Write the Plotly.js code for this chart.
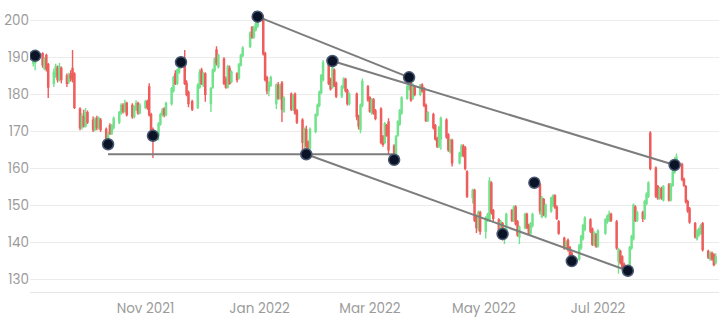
<!DOCTYPE html>
<html>
<head>
<meta charset="utf-8">
<script src="https://cdn.plot.ly/plotly-3.0.1.min.js"></script>
<style>
  html, body { margin: 0; padding: 0; background: #ffffff; }
  #chart { width: 724px; height: 319px; }
</style>
</head>
<body>
<div id="chart"></div>
<script>
// ---- Trading calendar (weekdays, US market holidays skipped) ----
const firstDay = '2021-09-02';
const lastDay = '2022-09-02';
const marketHolidays = ['2021-09-06', '2021-11-25', '2021-12-24', '2022-01-17', '2022-02-21',
  '2022-04-15', '2022-05-30', '2022-06-20', '2022-07-04'];

// ---- Daily prices, one line per week ----
const openPrices = [
  188.5, 188.5,
  191, 187, 190.5, 188,
  183, 185, 187, 184, 187,
  185, 183.5, 185.5, 187, 185.5,
  176, 171, 174, 171.5, 175,
  173, 170.5, 173.5, 171, 173,
  170.5, 167.5, 171.5, 169.5, 171,
  172.5, 175, 177, 175.5, 177.5,
  177, 174, 176, 177.5, 175,
  176.5, 178, 182, 174.5, 170.5,
  169, 172, 174.5, 176, 174.5,
  177.5, 181, 185.5, 183, 186,
  188.5, 183, 180.5, 178,
  176.5, 182, 186.5, 182.5, 185.5,
  177.5, 182, 186.5, 192, 187.5,
  189.5, 184, 182, 187, 183.5,
  185.5, 184.5, 188, 190.5,
  193, 198, 195.5, 197.5, 198.5,
  200.5, 191, 184.5, 181, 182.5,
  177.5, 182.5, 179, 183, 175.5,
  180, 176, 180, 175.5,
  173, 167, 170.5, 167, 165.5,
  170, 174.5, 177, 180.5, 184,
  188, 184, 182, 186.5, 183,
  179.5, 182, 184, 181, 177.5,
  180, 174, 170.5, 177,
  182, 179, 175, 178.5, 175.5,
  176, 168.5, 167, 171.5, 172.5,
  166, 164, 169, 172, 175,
  179, 181.5, 183.5, 179, 182,
  180, 182.5, 181.5, 177, 173,
  174.5, 171.5, 168, 166, 168,
  173, 169, 164.5, 167.5,
  161.5, 163.5, 166, 165.5, 159,
  152, 154, 147, 144, 148,
  143, 146, 146, 156, 148.5,
  146, 143, 145, 141, 143,
  148.5, 146, 149.5, 145.5, 141.5,
  144, 147.5, 144.5, 142.5, 144.5,
  155.5, 147, 151.5, 147,
  148.5, 150, 152.5, 149.5, 145.5,
  141, 138.5, 140.5, 138.5, 137,
  135.5, 138.5, 141, 143.5,
  146, 143.5, 139.5, 142, 139,
  142.5, 145.5, 146, 147.5,
  145.5, 135, 137.5, 136, 134,
  134, 138.5, 141, 149.5, 146,
  148, 146.5, 150.5, 152.5, 169.5,
  160, 155, 152, 154.5, 151.5,
  155.5, 151.5, 155.5, 159, 161,
  161, 157, 155, 151, 149,
  145, 141, 142, 142.5, 145,
  137.5, 135.5, 137, 136.5, 134.5
];
const highPrices = [
  190.6, 190.3,
  191.4, 190, 191, 188.5,
  187, 188.3, 187.8, 188.5, 187.5,
  185.6, 185.8, 186.5, 192, 186,
  176.5, 175, 175.8, 176.3, 175.6,
  174, 173.8, 174.2, 174, 173.6,
  171, 169.8, 172.2, 172, 174,
  175.5, 177.6, 177.6, 178.5, 178,
  177.6, 177, 178.4, 178, 177.6,
  178.5, 178.5, 183, 175, 171,
  172.5, 175, 176.3, 176.5, 178,
  182, 185, 186.5, 187, 189,
  192, 183.8, 181, 178.5,
  183, 186.8, 187.2, 186, 186,
  182, 187, 190, 193, 191,
  190, 184.8, 188, 187.8, 186.5,
  186, 188.5, 191, 193,
  197, 198.5, 198.6, 199.5, 201.2,
  201.5, 191.5, 185, 183.5, 185,
  183, 183.3, 182.8, 183.6, 179.5,
  180.5, 180, 180.5, 176,
  173.5, 171, 171.5, 167.5, 171,
  174.8, 177.5, 181, 185.5, 189.3,
  188.5, 184.5, 189, 187, 183.5,
  182.5, 184.6, 184.5, 181.5, 180.5,
  180.5, 174.5, 177.5, 184.3,
  182.5, 179.5, 179, 179, 176,
  176.5, 169, 172.5, 172, 173.5,
  166.5, 169, 173, 176, 179.5,
  182.5, 184.6, 184, 183, 182.5,
  182.8, 183, 182, 177.5, 175.5,
  175, 172, 168.5, 171.5, 174,
  173.5, 169.5, 168, 168,
  164.5, 166.5, 166.5, 166, 159.5,
  154.5, 154.5, 147.5, 148.6, 148.5,
  147, 148, 157.6, 156.5, 149,
  146.5, 146, 145.5, 144, 148,
  149, 150, 150, 146, 144.5,
  148, 148, 145, 145.5, 148,
  156, 152.5, 152, 150.5,
  152.3, 153, 153, 150, 146,
  141.5, 140.5, 141, 139, 137.5,
  139.5, 142, 145, 147,
  146.5, 144, 143, 142.5, 143.5,
  146.5, 147.5, 148.5, 148,
  146, 138.5, 138, 136.5, 134.5,
  139, 142, 150.5, 150, 148.5,
  148.5, 151.5, 153.5, 156.5, 170,
  160.5, 155.5, 155, 155, 155.5,
  156, 156, 159.5, 163, 164,
  161.5, 157.5, 155.5, 151.5, 149.5,
  145.5, 143.5, 144, 145, 145.5,
  138, 137.5, 137.5, 137, 137
];
const lowPrices = [
  187.5, 186.5,
  187.2, 186.5, 186.2, 179,
  182, 184.5, 183.2, 183.5, 183,
  182, 182.8, 183.5, 183.2, 176,
  170.3, 170.5, 171, 171, 172,
  169.8, 170, 170.3, 170.5, 169.8,
  167.2, 166.5, 169, 169, 170.5,
  172, 174.5, 174.8, 175, 174,
  173.4, 173.5, 175.5, 174.5, 174.6,
  176, 175.8, 174, 170, 162.8,
  167.5, 171.5, 174, 173.8, 174,
  177, 180.5, 182.5, 182.5, 185.5,
  182.5, 179.5, 176.5, 175.5,
  176, 181.5, 182.5, 182, 178,
  175.2, 181.5, 186, 187.8, 187,
  182.5, 181.5, 181.6, 182.6, 183,
  183.2, 184, 187.5, 190,
  192.5, 195, 195, 197, 198,
  190.5, 183.5, 180, 179.5, 182,
  176, 178.5, 178.5, 172.5, 175,
  175.5, 175.5, 174.5, 172,
  164.5, 165, 164.3, 163.8, 165,
  169.5, 174, 176.5, 180, 183.5,
  182.5, 181, 181.5, 182, 179,
  179, 181.5, 180.5, 177, 177,
  173, 170.5, 169.5, 176.5,
  178, 175, 174.5, 174.5, 173,
  166.5, 165.8, 166.5, 168.5, 163.5,
  162.8, 163.5, 168.5, 171.5, 174.5,
  178.5, 181, 178, 178.5, 179.5,
  179.5, 180.5, 176.5, 172.5, 172.5,
  170.5, 167.5, 165.5, 165.5, 165,
  168, 164.5, 164, 160.5,
  161, 163, 163, 159.5, 152,
  150.5, 145.5, 142.5, 143, 142,
  141, 145.5, 145.5, 147.5, 145.5,
  142, 141.5, 140.5, 139.5, 142.5,
  145.5, 145.5, 144.5, 141.5, 139.5,
  143.5, 143.5, 142, 142, 144,
  147.5, 146.5, 147, 146.5,
  148, 149.5, 149, 146, 142,
  138, 138, 137.5, 135, 133.5,
  135, 138, 140.5, 143,
  142.5, 139, 139, 138.5, 138.5,
  142, 145, 145.5, 145.5,
  138, 131.5, 134, 132.5, 132,
  133, 138, 140.5, 145.5, 145.5,
  145.5, 146, 150, 152, 159.5,
  152, 151.5, 151.5, 151.5, 151,
  151, 151, 155, 158.5, 160.5,
  156.5, 155, 150.5, 148, 145,
  141, 140.5, 141.5, 142, 137.5,
  135.5, 135, 135, 133.5, 134
];
const closePrices = [
  190, 189.5,
  188, 189.5, 187, 182,
  186, 187.5, 184, 187.5, 184,
  183, 185, 184.5, 184, 176.5,
  171, 174, 171.5, 175, 172.5,
  170.5, 173, 171, 173.5, 170.5,
  168, 169, 169.5, 171.5, 173.5,
  175, 177, 175.5, 177.5, 174.5,
  174, 176.5, 177.5, 175, 177,
  178, 176.5, 174.5, 170.5, 168.5,
  172, 174.5, 175.5, 174.5, 177.5,
  181.5, 184.5, 183, 186.5, 188,
  183, 180, 177.5, 176,
  182.5, 186, 183, 185.5, 180,
  181.5, 186.5, 189.5, 188.5, 190.5,
  183, 182, 187.5, 183, 186,
  184, 188, 190.5, 192.5,
  196.5, 195.5, 198, 199, 200.5,
  191, 184, 181, 183, 184.5,
  182.5, 179, 182, 176, 179,
  176, 179.5, 175, 172.5,
  167, 170.5, 166, 165, 170.5,
  174.5, 177, 180.5, 185, 188.5,
  183, 181.5, 188, 182.5, 179.5,
  182, 184, 181, 177.5, 180,
  174, 171.5, 177, 183.5,
  178.5, 175.5, 178.5, 175, 173.5,
  167, 166.5, 172, 169, 165,
  163.5, 168.5, 172.5, 175.5, 179,
  182, 184, 178.5, 182.5, 180,
  182.5, 181, 177, 173, 175,
  171, 168, 166, 171, 173.5,
  168.5, 165, 167.5, 161.5,
  164, 166, 163.5, 160, 152.5,
  154, 146, 144, 148, 143,
  146.5, 147.5, 156.5, 148, 146.5,
  142.5, 145.5, 141, 143.5, 147.5,
  146, 149.5, 145, 142, 144,
  147.5, 144, 142.5, 145, 147.5,
  148.5, 152, 147.5, 150,
  152, 152.5, 149.5, 146.5, 142.5,
  138.5, 140, 138, 135.5, 134,
  139, 141.5, 144.5, 146.5,
  143, 139.5, 142.5, 139, 143,
  146, 147, 147.5, 146,
  138.5, 138, 134.5, 133, 132.5,
  138.5, 141.5, 150, 146, 148,
  146.5, 151, 153, 156, 160,
  152.5, 152, 154.5, 152, 155,
  151.5, 155.5, 159, 161.5, 163,
  157, 155.5, 151, 148.5, 145.5,
  141.5, 143, 143.5, 144.5, 138,
  136, 137, 135.5, 134, 136
];

// ---- Annotated pivot points ----
const pivotDates = ['2021-09-03', '2021-10-12', '2021-11-05', '2021-11-20', '2021-12-31',
  '2022-01-26', '2022-02-09', '2022-03-14', '2022-03-22', '2022-05-11', '2022-05-28',
  '2022-06-17', '2022-07-17', '2022-08-11'];
const pivotValues = [190.4, 166.5, 168.8, 188.7, 201.0, 163.8, 189.0, 162.3, 184.6, 142.2,
  156.1, 134.9, 132.3, 160.9];

// ---- Trend lines (start date, start value, end date, end value) ----
const trendStartDates = ['2021-10-12', '2021-12-31', '2022-02-09', '2022-01-26'];
const trendStartValues = [163.8, 201.0, 189.0, 163.8];
const trendEndDates = ['2022-03-14', '2022-03-22', '2022-08-11', '2022-07-17'];
const trendEndValues = [163.8, 184.6, 160.9, 132.3];

// ---- Axis ticks ----
const xTickDates = ['2021-11-01', '2022-01-01', '2022-03-01', '2022-05-01', '2022-07-01'];
const xTickLabels = ['Nov 2021', 'Jan 2022', 'Mar 2022', 'May 2022', 'Jul 2022'];
const yTicks = [130, 140, 150, 160, 170, 180, 190, 200];

function buildCalendar(start, end, skip) {
  const out = [];
  const d = new Date(start + 'T00:00:00Z');
  const e = new Date(end + 'T00:00:00Z');
  while (d <= e) {
    const wd = d.getUTCDay();
    const s = d.toISOString().slice(0, 10);
    if (wd !== 0 && wd !== 6 && skip.indexOf(s) < 0) out.push(s);
    d.setUTCDate(d.getUTCDate() + 1);
  }
  return out;
}
const tradeDates = buildCalendar(firstDay, lastDay, marketHolidays);

const traces = [{
  type: 'candlestick',
  x: tradeDates,
  open: openPrices, high: highPrices, low: lowPrices, close: closePrices,
  increasing: { line: { color: '#72e38c', width: 1.4 }, fillcolor: '#72e38c' },
  decreasing: { line: { color: '#ee5c5c', width: 1.4 }, fillcolor: '#ee5c5c' },
  whiskerwidth: 0,
  hoverinfo: 'skip',
  showlegend: false
}];

for (let i = 0; i < trendStartDates.length; i++) {
  traces.push({
    type: 'scatter', mode: 'lines',
    x: [trendStartDates[i], trendEndDates[i]],
    y: [trendStartValues[i], trendEndValues[i]],
    line: { color: '#7d7d7d', width: 2 },
    hoverinfo: 'skip', showlegend: false
  });
}

traces.push({
  type: 'scatter', mode: 'markers',
  x: pivotDates, y: pivotValues,
  marker: { size: 11, color: '#0b1426', line: { color: '#4a5872', width: 1.5 } },
  hoverinfo: 'skip', showlegend: false
});

const layout = {
  width: 724, height: 319,
  margin: { l: 30, r: 5, t: 10, b: 27 },
  paper_bgcolor: '#ffffff', plot_bgcolor: '#ffffff',
  font: { family: 'Poppins, "Open Sans", sans-serif', size: 13.5, color: '#9b9b9b' },
  showlegend: false,
  boxgap: 0.15,
  xaxis: {
    type: 'date',
    range: ['2021-08-31 06:00', '2022-09-03 18:00'],
    rangeslider: { visible: false },
    showgrid: false,
    zeroline: false,
    showline: true, linecolor: '#e6e6e6', linewidth: 1,
    tickmode: 'array', tickvals: xTickDates, ticktext: xTickLabels,
    ticklabelstandoff: 4,
    ticks: ''
  },
  yaxis: {
    range: [126.55, 202.8],
    tickmode: 'array', tickvals: yTicks, ticktext: yTicks.map(String),
    showgrid: true, gridcolor: '#ececec', gridwidth: 1,
    zeroline: false, showline: false,
    ticks: ''
  }
};

Plotly.newPlot('chart', traces, layout, { staticPlot: true, displayModeBar: false });
</script>
</body>
</html>
